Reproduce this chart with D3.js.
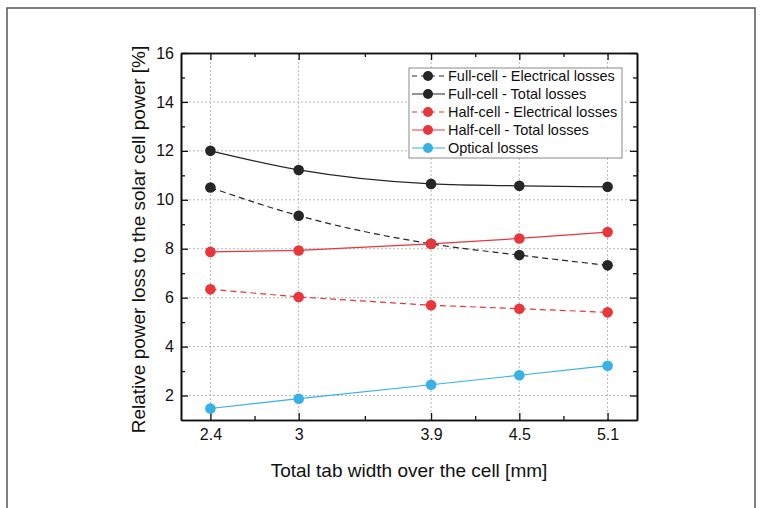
<!DOCTYPE html>
<html>
<head>
<meta charset="utf-8">
<script src="https://cdn.jsdelivr.net/npm/d3@7"></script>
<style>
  body { margin: 0; background: #fff; }
  svg { font-family: "Liberation Sans", Arial, sans-serif; }
</style>
</head>
<body>
<div id="chart"></div>
<script>
// Tab widths (mm) on the x axis
const tabWidths = [2.4, 3, 3.9, 4.5, 5.1];

// Relative power loss values [%]
const fullElectrical = [10.5, 9.35, 8.2, 7.74, 7.32];
const fullTotal = [12.0, 11.22, 10.65, 10.57, 10.53];
const halfElectrical = [6.34, 6.03, 5.69, 5.55, 5.40];
const halfTotal = [7.87, 7.93, 8.2, 8.42, 8.68];
const optical = [1.47, 1.87, 2.44, 2.83, 3.22];

const seriesNames = [
    "Full-cell - Electrical losses",
    "Full-cell - Total losses",
    "Half-cell - Electrical losses",
    "Half-cell - Total losses",
    "Optical losses"
];

const yTicks = [2, 4, 6, 8, 10, 12, 14, 16];
const yMinor = [3, 5, 7, 9, 11, 13, 15];
const xMinor = [2.7, 3.45, 4.2, 4.8];

const series = [
    { name: seriesNames[0], values: fullElectrical, color: "#262626", dashed: true, smooth: true },
    { name: seriesNames[1], values: fullTotal, color: "#262626", dashed: false, smooth: true },
    { name: seriesNames[2], values: halfElectrical, color: "#e8363b", dashed: true, smooth: false },
    { name: seriesNames[3], values: halfTotal, color: "#e8363b", dashed: false, smooth: false },
    { name: seriesNames[4], values: optical, color: "#36b2e6", dashed: false, smooth: false }
];

const width = 762, height = 508;
const margin = { top: 53, bottom: 88, left: 181, right: 125 };

const svg = d3.select("#chart")
    .append("svg")
    .attr("width", width)
    .attr("height", height);

// Outer frame of the figure
svg.append("rect")
    .attr("x", 7)
    .attr("y", 8)
    .attr("width", 748)
    .attr("height", 520)
    .attr("fill", "none")
    .attr("stroke", "#555")
    .attr("stroke-width", 1.5);

const xScale = d3.scaleLinear()
    .domain([2.2, 5.3])
    .range([margin.left, width - margin.right]);

const yScale = d3.scaleLinear()
    .domain([1, 16])
    .range([height - margin.bottom, margin.top]);

const x0 = margin.left, x1 = width - margin.right;
const y0 = height - margin.bottom, y1 = margin.top;

// Dotted grid
svg.append("g")
    .selectAll("line")
    .data(yTicks.filter(d => d < 16))
    .enter()
    .append("line")
    .attr("x1", x0).attr("x2", x1)
    .attr("y1", d => yScale(d)).attr("y2", d => yScale(d))
    .attr("stroke", "#b8b8b8")
    .attr("stroke-dasharray", "2,2");

svg.append("g")
    .selectAll("line")
    .data(tabWidths)
    .enter()
    .append("line")
    .attr("x1", d => xScale(d)).attr("x2", d => xScale(d))
    .attr("y1", y0).attr("y2", y1)
    .attr("stroke", "#b8b8b8")
    .attr("stroke-dasharray", "2,2");

// Axes with inward ticks
function styleAxis(g) {
    g.select(".domain").attr("stroke", "#111").attr("stroke-width", 1.6);
    g.selectAll(".tick line").attr("stroke", "#111").attr("stroke-width", 1.3);
    g.selectAll("text").style("font-size", "16px").attr("fill", "#111");
}

svg.append("g")
    .attr("transform", `translate(0,${y0})`)
    .call(d3.axisBottom(xScale).tickValues(tabWidths).tickSize(-7).tickPadding(9).tickSizeOuter(0).tickFormat(d3.format("")))
    .call(styleAxis);
svg.append("g")
    .attr("transform", `translate(0,${y0})`)
    .call(d3.axisBottom(xScale).tickValues(xMinor).tickSize(-4).tickSizeOuter(0).tickFormat(""))
    .call(styleAxis);
svg.append("g")
    .attr("transform", `translate(0,${y1})`)
    .call(d3.axisTop(xScale).tickValues(tabWidths).tickSize(-7).tickSizeOuter(0).tickFormat(""))
    .call(styleAxis);
svg.append("g")
    .attr("transform", `translate(0,${y1})`)
    .call(d3.axisTop(xScale).tickValues(xMinor).tickSize(-4).tickSizeOuter(0).tickFormat(""))
    .call(styleAxis);

svg.append("g")
    .attr("transform", `translate(${x0},0)`)
    .call(d3.axisLeft(yScale).tickValues(yTicks).tickSize(-7).tickPadding(7).tickSizeOuter(0))
    .call(styleAxis);
svg.append("g")
    .attr("transform", `translate(${x0},0)`)
    .call(d3.axisLeft(yScale).tickValues(yMinor).tickSize(-4).tickSizeOuter(0).tickFormat(""))
    .call(styleAxis);
svg.append("g")
    .attr("transform", `translate(${x1},0)`)
    .call(d3.axisRight(yScale).tickValues(yTicks).tickSize(-7).tickSizeOuter(0).tickFormat(""))
    .call(styleAxis);
svg.append("g")
    .attr("transform", `translate(${x1},0)`)
    .call(d3.axisRight(yScale).tickValues(yMinor).tickSize(-4).tickSizeOuter(0).tickFormat(""))
    .call(styleAxis);

// Axis titles
svg.append("text")
    .attr("x", (x0 + x1) / 2)
    .attr("y", 477)
    .attr("text-anchor", "middle")
    .style("font-size", "19px")
    .attr("fill", "#111")
    .text("Total tab width over the cell [mm]");

svg.append("text")
    .attr("transform", `translate(145,${(y0 + y1) / 2 + 3}) rotate(-90)`)
    .attr("text-anchor", "middle")
    .style("font-size", "19px")
    .attr("fill", "#111")
    .text("Relative power loss to the solar cell power [%]");

// Lines and markers
series.forEach(s => {
    const pts = tabWidths.map((x, i) => [x, s.values[i]]);
    const line = d3.line()
        .x(d => xScale(d[0]))
        .y(d => yScale(d[1]))
        .curve(s.smooth ? d3.curveMonotoneX : d3.curveLinear);

    svg.append("path")
        .datum(pts)
        .attr("d", line)
        .attr("fill", "none")
        .attr("stroke", s.color)
        .attr("stroke-width", 1.2)
        .attr("stroke-dasharray", s.dashed ? "6,4" : null);

    svg.append("g")
        .selectAll("circle")
        .data(pts)
        .enter()
        .append("circle")
        .attr("cx", d => xScale(d[0]))
        .attr("cy", d => yScale(d[1]))
        .attr("r", 5.3)
        .attr("fill", s.color);
});

// Legend
const legend = svg.append("g").attr("transform", "translate(409,68)");
legend.append("rect")
    .attr("width", 213)
    .attr("height", 90)
    .attr("fill", "#fff")
    .attr("stroke", "#8a8a8a")
    .attr("stroke-width", 1);

const rows = legend.selectAll("g.row")
    .data(series)
    .enter()
    .append("g")
    .attr("transform", (d, i) => `translate(0,${8 + i * 18})`);

rows.append("line")
    .attr("x1", 3).attr("x2", 36)
    .attr("stroke", d => d.color)
    .attr("stroke-width", 1.2)
    .attr("stroke-dasharray", d => d.dashed ? "5,4" : null);

rows.append("circle")
    .attr("cx", 19)
    .attr("r", 5)
    .attr("fill", d => d.color);

rows.append("text")
    .attr("x", 39)
    .attr("y", 5)
    .style("font-size", "14.5px")
    .attr("fill", "#111")
    .text(d => d.name);
</script>
</body>
</html>
